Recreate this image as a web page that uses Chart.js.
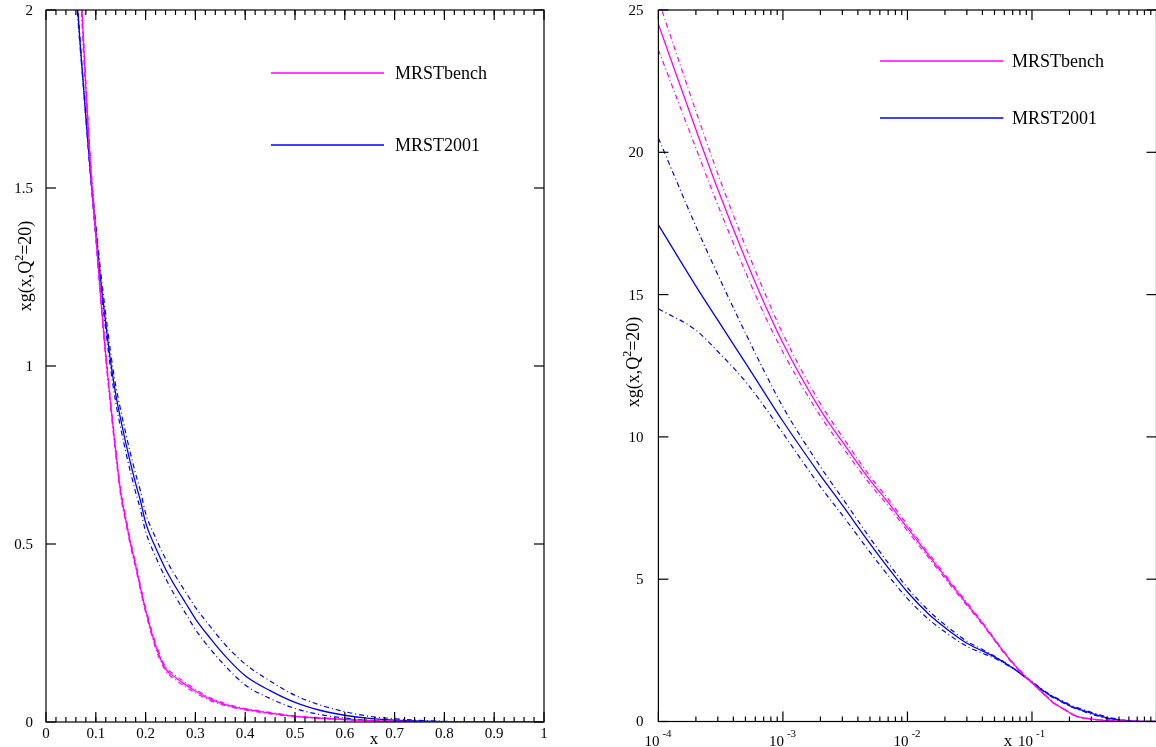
<!DOCTYPE html>
<html>
<head>
<meta charset="utf-8">
<script src="https://cdn.jsdelivr.net/npm/chart.js@4.4.0/dist/chart.umd.min.js"></script>
<style>
  html, body { margin: 0; padding: 0; background: #fff; }
  #wrap { position: relative; width: 1156px; height: 747px; overflow: hidden; }
  #left { position: absolute; left: 0; top: 0; }
  #right { position: absolute; left: 590px; top: 0; }
</style>
</head>
<body>
<div id="wrap">
  <canvas id="left" width="578" height="747"></canvas>
  <canvas id="right" width="570" height="747"></canvas>
</div>
<script>
// x grid shared by both panels
const xs = [1e-4, 2e-4, 3e-4, 5e-4, 7e-4, 1e-3, 2e-3, 3e-3, 5e-3, 7e-3,
  0.01, 0.015, 0.02, 0.03, 0.04, 0.05, 0.06, 0.07, 0.08, 0.09,
  0.10, 0.11, 0.12, 0.13, 0.14, 0.15, 0.16, 0.17, 0.18, 0.19,
  0.20, 0.22, 0.24, 0.26, 0.28, 0.30, 0.33, 0.36, 0.40, 0.45,
  0.50, 0.55, 0.60, 0.65, 0.70, 0.80, 0.90, 1.0];

// MRSTbench: central value and the two error curves
const benchMid = [24.5, 20.8, 18.7, 16.25, 14.75, 13.3, 10.95, 9.83, 8.48, 7.7,
  6.8, 5.8, 5.1, 4.13, 3.45, 2.88, 2.42, 2.06, 1.78, 1.55,
  1.37, 1.19, 1.03, 0.89, 0.76, 0.645, 0.57, 0.50, 0.44, 0.375,
  0.315, 0.215, 0.15, 0.125, 0.105, 0.087, 0.064, 0.049, 0.036, 0.025,
  0.016, 0.011, 0.007, 0.004, 0.002, 0.0005, 0.0001, 0];
const benchHi = [25.35, 21.45, 19.25, 16.7, 15.15, 13.62, 11.17, 10.01, 8.62, 7.82,
  6.9, 5.88, 5.17, 4.18, 3.49, 2.91, 2.45, 2.085, 1.80, 1.57,
  1.385, 1.20, 1.04, 0.90, 0.77, 0.655, 0.578, 0.508, 0.447, 0.382,
  0.322, 0.222, 0.156, 0.131, 0.111, 0.092, 0.068, 0.052, 0.038, 0.027,
  0.0175, 0.012, 0.0077, 0.0045, 0.0023, 0.0006, 0.0001, 0];
const benchLo = [23.6, 20.15, 18.15, 15.8, 14.35, 12.98, 10.73, 9.65, 8.34, 7.58,
  6.7, 5.72, 5.03, 4.08, 3.41, 2.85, 2.39, 2.035, 1.76, 1.53,
  1.355, 1.18, 1.02, 0.88, 0.75, 0.635, 0.562, 0.492, 0.433, 0.368,
  0.308, 0.208, 0.144, 0.119, 0.099, 0.082, 0.060, 0.046, 0.034, 0.023,
  0.0145, 0.010, 0.0063, 0.0035, 0.0017, 0.0004, 0.0001, 0];

// MRST2001: central value and the two error curves
const mrstMid = [17.45, 15.3, 14.1, 12.6, 11.6, 10.55, 8.65, 7.6, 6.25, 5.4,
  4.55, 3.75, 3.3, 2.75, 2.48, 2.27, 2.07, 1.88, 1.70, 1.53,
  1.38, 1.24, 1.12, 1.01, 0.92, 0.85, 0.785, 0.725, 0.67, 0.62,
  0.56, 0.49, 0.43, 0.38, 0.335, 0.29, 0.235, 0.185, 0.13, 0.088,
  0.055, 0.033, 0.019, 0.010, 0.005, 0.001, 0.0001, 0];
const mrstA = [20.5, 17.4, 15.7, 13.65, 12.35, 11.05, 8.95, 7.85, 6.45, 5.57,
  4.7, 3.87, 3.4, 2.82, 2.53, 2.3, 2.085, 1.885, 1.695, 1.52,
  1.365, 1.222, 1.10, 0.99, 0.898, 0.826, 0.76, 0.70, 0.645, 0.595,
  0.535, 0.465, 0.404, 0.352, 0.306, 0.26, 0.205, 0.157, 0.104, 0.066,
  0.038, 0.021, 0.011, 0.005, 0.002, 0.0003, 0, 0];
const mrstB = [14.5, 13.75, 13.0, 11.95, 11.1, 10.13, 8.25, 7.25, 5.95, 5.13,
  4.32, 3.57, 3.15, 2.64, 2.40, 2.22, 2.045, 1.87, 1.71, 1.545,
  1.40, 1.262, 1.145, 1.035, 0.945, 0.876, 0.812, 0.752, 0.697, 0.647,
  0.587, 0.518, 0.459, 0.41, 0.366, 0.322, 0.268, 0.217, 0.163, 0.115,
  0.075, 0.048, 0.029, 0.016, 0.009, 0.002, 0.0003, 0];

// tick labels
const leftXTicks = [0, 0.1, 0.2, 0.3, 0.4, 0.5, 0.6, 0.7, 0.8, 0.9, 1];
const leftYTicks = [0, 0.5, 1, 1.5, 2];
const rightXTicks = [1e-4, 1e-3, 1e-2, 1e-1, 1];
const rightXExps = ['-4', '-3', '-2', '-1'];
const rightYTicks = [0, 5, 10, 15, 20, 25];

const PINK = '#ff00ff';
const BLUE = '#0000ff';
const SERIF = '"Liberation Serif", "Times New Roman", serif';
const DASHDOT = [5, 3, 1, 3];

function pts(ys, minX) {
  const out = [];
  xs.forEach((x, i) => { if (x >= minX) out.push({ x: x, y: ys[i] }); });
  return out;
}

function makeDatasets(minX) {
  const line = (label, ys, color, dashed) => ({
    label: label,
    data: pts(ys, minX),
    borderColor: color,
    borderWidth: dashed ? 1.2 : 1.3,
    borderDash: dashed ? DASHDOT : [],
    pointRadius: 0,
    fill: false,
    cubicInterpolationMode: 'monotone',
    legendEntry: !dashed
  });
  return [
    line('bench hi', benchHi, PINK, true),
    line('bench lo', benchLo, PINK, true),
    line('MRSTbench', benchMid, PINK, false),
    line('mrst a', mrstA, BLUE, true),
    line('mrst b', mrstB, BLUE, true),
    line('MRST2001', mrstMid, BLUE, false)
  ];
}

// frame, inward ticks, labels, titles and legend
const framePlugin = {
  id: 'frame',
  afterDraw(chart, args, o) {
    const ctx = chart.ctx;
    const a = chart.chartArea;
    const sx = chart.scales.x, sy = chart.scales.y;
    const seg = (x1, y1, x2, y2) => { ctx.beginPath(); ctx.moveTo(x1, y1); ctx.lineTo(x2, y2); ctx.stroke(); };
    ctx.save();
    ctx.strokeStyle = '#000';
    ctx.lineWidth = 1.2;
    ctx.strokeRect(a.left, a.top, a.right - a.left, a.bottom - a.top);

    o.xMinor.forEach(v => {
      const p = sx.getPixelForValue(v);
      seg(p, a.bottom, p, a.bottom - 5);
      seg(p, a.top, p, a.top + 5);
    });
    o.xMajor.forEach(v => {
      const p = sx.getPixelForValue(v);
      seg(p, a.bottom, p, a.bottom - 10);
      seg(p, a.top, p, a.top + 10);
    });
    o.yMajor.forEach(v => {
      const p = sy.getPixelForValue(v);
      seg(a.left, p, a.left + 10, p);
      seg(a.right, p, a.right - 10, p);
    });

    ctx.fillStyle = '#000';
    // y tick labels
    ctx.font = '15px ' + SERIF;
    ctx.textAlign = 'right';
    ctx.textBaseline = 'middle';
    o.yMajor.forEach(v => {
      ctx.fillText(String(v), a.left - o.yLabelGap, sy.getPixelForValue(v) + 1);
    });

    // x tick labels
    if (o.logLabels) {
      o.xMajor.forEach((v, i) => {
        if (i >= rightXExps.length) return;
        const p = sx.getPixelForValue(v);
        ctx.font = '15px ' + SERIF;
        ctx.textAlign = 'right';
        ctx.textBaseline = 'alphabetic';
        ctx.fillText('10', p + 1, 746);
        ctx.font = '11px ' + SERIF;
        ctx.textAlign = 'left';
        ctx.fillText(rightXExps[i], p + 4, 737);
      });
    } else {
      ctx.font = '15px ' + SERIF;
      ctx.textAlign = 'center';
      ctx.textBaseline = 'alphabetic';
      o.xMajor.forEach(v => {
        ctx.fillText(String(v), sx.getPixelForValue(v), 738);
      });
    }

    // x title
    ctx.font = '17px ' + SERIF;
    ctx.textAlign = 'center';
    ctx.fillText('x', o.xTitle[0], o.xTitle[1]);

    // y title with superscript
    ctx.save();
    ctx.translate(o.yTitle[0], o.yTitle[1]);
    ctx.rotate(-Math.PI / 2);
    ctx.textAlign = 'left';
    ctx.textBaseline = 'alphabetic';
    const big = '18px ' + SERIF, small = '12px ' + SERIF;
    ctx.font = big; const w1 = ctx.measureText('xg(x,Q').width;
    ctx.font = small; const w2 = ctx.measureText('2').width;
    ctx.font = big; const w3 = ctx.measureText('=20)').width;
    let tx = -(w1 + w2 + w3) / 2;
    ctx.fillText('xg(x,Q', tx, 0);
    ctx.font = small; ctx.fillText('2', tx + w1, -8);
    ctx.font = big; ctx.fillText('=20)', tx + w1 + w2, 0);
    ctx.restore();

    // legend (solid curves only)
    const entries = chart.data.datasets.filter(d => d.legendEntry);
    ctx.font = '18px ' + SERIF;
    ctx.textAlign = 'left';
    ctx.textBaseline = 'middle';
    entries.forEach((d, i) => {
      const ly = o.legend.y[i];
      ctx.strokeStyle = d.borderColor;
      ctx.lineWidth = 1.4;
      seg(o.legend.x1, ly, o.legend.x2, ly);
      ctx.fillStyle = '#000';
      ctx.fillText(d.label, o.legend.tx, ly + 1);
    });
    ctx.restore();
  }
};

const leftMinor = [];
for (let v = 0.02; v < 1; v += 0.02) leftMinor.push(Math.round(v * 100) / 100);
const rightMinor = [];
for (let d = -4; d <= -1; d++) for (let k = 2; k <= 9; k++) rightMinor.push(k * Math.pow(10, d));

new Chart(document.getElementById('left'), {
  type: 'line',
  data: { datasets: makeDatasets(0.04) },
  plugins: [framePlugin],
  options: {
    responsive: false,
    animation: false,
    layout: { padding: { left: 46, right: 34, top: 10, bottom: 25 } },
    scales: {
      x: { type: 'linear', min: 0, max: 1, display: false },
      y: { type: 'linear', min: 0, max: 2, display: false }
    },
    plugins: {
      legend: { display: false },
      tooltip: { enabled: false },
      frame: {
        xMinor: leftMinor, xMajor: leftXTicks, yMajor: leftYTicks,
        yLabelGap: 13, logLabels: false,
        xTitle: [374, 744], yTitle: [31, 266],
        legend: { x1: 271, x2: 384, tx: 395, y: [73, 145] }
      }
    }
  }
});

new Chart(document.getElementById('right'), {
  type: 'line',
  data: { datasets: makeDatasets(1e-4) },
  plugins: [framePlugin],
  options: {
    responsive: false,
    animation: false,
    layout: { padding: { left: 68.4, right: 3.5, top: 10, bottom: 25.5 } },
    scales: {
      x: { type: 'logarithmic', min: 1e-4, max: 1, display: false },
      y: { type: 'linear', min: 0, max: 25, display: false }
    },
    plugins: {
      legend: { display: false },
      tooltip: { enabled: false },
      frame: {
        xMinor: rightMinor, xMajor: rightXTicks, yMajor: rightYTicks,
        yLabelGap: 15, logLabels: true,
        xTitle: [418, 746], yTitle: [49, 362],
        legend: { x1: 290, x2: 413.5, tx: 422, y: [61, 118] }
      }
    }
  }
});
</script>
</body>
</html>
